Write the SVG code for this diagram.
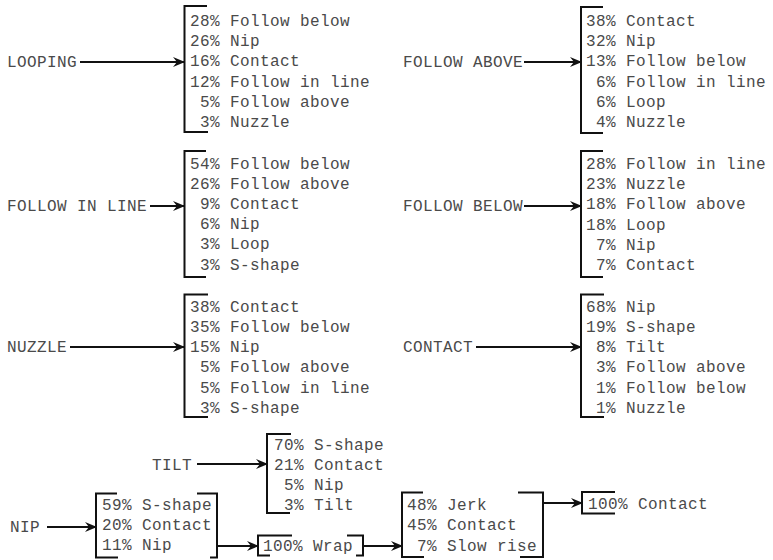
<svg xmlns="http://www.w3.org/2000/svg" width="773" height="560" viewBox="0 0 773 560">
<style>
text{font-family:"Liberation Mono","Courier New",monospace;font-size:16px;letter-spacing:0.4px;fill:#4a4a4a}
.br{fill:none;stroke:#111;stroke-width:2}
.ar{fill:none;stroke:#111;stroke-width:1.8;marker-end:url(#ah)}
</style>
<defs>
<marker id="ah" viewBox="0 0 12 10" refX="11" refY="5" markerWidth="12" markerHeight="10" markerUnits="userSpaceOnUse" orient="auto">
<path d="M0,0 L12,5 L0,10 L4,5 z" fill="#111"/>
</marker>
</defs>
<rect width="773" height="560" fill="#fff"/>
<g id="connectors">
<line class="ar" x1="80" y1="62" x2="184" y2="62"/>
<line class="ar" x1="524" y1="62" x2="581" y2="62"/>
<line class="ar" x1="150" y1="206" x2="184" y2="206"/>
<line class="ar" x1="524" y1="206" x2="581" y2="206"/>
<line class="ar" x1="70" y1="347" x2="184" y2="347"/>
<line class="ar" x1="476" y1="347" x2="581" y2="347"/>
<line class="ar" x1="197" y1="464" x2="267" y2="464"/>
<line class="ar" x1="47" y1="527" x2="96" y2="527"/>
<line class="ar" x1="217" y1="546" x2="258" y2="546"/>
<line class="ar" x1="363" y1="546" x2="402" y2="546"/>
<line class="ar" x1="543" y1="503" x2="582" y2="503"/>
</g>
<g id="looping">
<text x="7" y="66.5">LOOPING</text>
<path class="br" d="M207,6 H184.5 V132 H208"/>
<text x="190" y="26">28% Follow below</text>
<text x="190" y="46.2">26% Nip</text>
<text x="190" y="66.4">16% Contact</text>
<text x="190" y="86.6">12% Follow in line</text>
<text x="200" y="106.8">5% Follow above</text>
<text x="200" y="127">3% Nuzzle</text>
</g>
<g id="follow-above">
<text x="403" y="66.5">FOLLOW ABOVE</text>
<path class="br" d="M603,7 H581 V133 H603"/>
<text x="586" y="26">38% Contact</text>
<text x="586" y="46.2">32% Nip</text>
<text x="586" y="66.4">13% Follow below</text>
<text x="596" y="86.6">6% Follow in line</text>
<text x="596" y="106.8">6% Loop</text>
<text x="596" y="127">4% Nuzzle</text>
</g>
<g id="follow-in-line">
<text x="7" y="211">FOLLOW IN LINE</text>
<path class="br" d="M206,151 H184.5 V277 H206"/>
<text x="190" y="168.5">54% Follow below</text>
<text x="190" y="188.7">26% Follow above</text>
<text x="200" y="208.9">9% Contact</text>
<text x="200" y="229.1">6% Nip</text>
<text x="200" y="249.3">3% Loop</text>
<text x="200" y="269.5">3% S-shape</text>
</g>
<g id="follow-below">
<text x="403" y="211">FOLLOW BELOW</text>
<path class="br" d="M603,151 H581 V277 H603"/>
<text x="586" y="169">28% Follow in line</text>
<text x="586" y="189.2">23% Nuzzle</text>
<text x="586" y="209.4">18% Follow above</text>
<text x="586" y="229.6">18% Loop</text>
<text x="596" y="249.8">7% Nip</text>
<text x="596" y="270">7% Contact</text>
</g>
<g id="nuzzle">
<text x="7" y="351.5">NUZZLE</text>
<path class="br" d="M208,294.5 H184.5 V417 H208"/>
<text x="190" y="311.7">38% Contact</text>
<text x="190" y="331.9">35% Follow below</text>
<text x="190" y="352.1">15% Nip</text>
<text x="200" y="372.3">5% Follow above</text>
<text x="200" y="392.5">5% Follow in line</text>
<text x="200" y="412.7">3% S-shape</text>
</g>
<g id="contact">
<text x="403" y="351.5">CONTACT</text>
<path class="br" d="M604,294.5 H581 V417 H604"/>
<text x="586" y="311.7">68% Nip</text>
<text x="586" y="331.9">19% S-shape</text>
<text x="596" y="352.1">8% Tilt</text>
<text x="596" y="372.3">3% Follow above</text>
<text x="596" y="392.5">1% Follow below</text>
<text x="596" y="412.7">1% Nuzzle</text>
</g>
<g id="tilt">
<text x="152" y="469.5">TILT</text>
<path class="br" d="M291,434 H267 V513 H290"/>
<text x="274" y="449.5">70% S-shape</text>
<text x="274" y="470">21% Contact</text>
<text x="284" y="490">5% Nip</text>
<text x="284" y="510">3% Tilt</text>
</g>
<g id="nip">
<text x="10" y="531.5">NIP</text>
<path class="br" d="M117,493.5 H96 V557.5 H118"/>
<path class="br" d="M197,493.5 H217 V557.5 H210"/>
<text x="102" y="510">59% S-shape</text>
<text x="102" y="530">20% Contact</text>
<text x="102" y="550">11% Nip</text>
</g>
<g id="wrap">
<path class="br" d="M292,535.5 H258 V555.5 H270"/>
<path class="br" d="M347,535.5 H363 V555.5 H356"/>
<text x="263" y="551">100% Wrap</text>
</g>
<g id="jerk">
<path class="br" d="M423,492.5 H402 V557 H424"/>
<path class="br" d="M518,492.5 H543 V557 H520"/>
<text x="407" y="509.5">48% Jerk</text>
<text x="407" y="530">45% Contact</text>
<text x="417" y="550.5">7% Slow rise</text>
</g>
<g id="contact-final">
<path class="br" d="M615,492 H582 V513.5 H615"/>
<text x="588" y="509">100% Contact</text>
</g>
</svg>
